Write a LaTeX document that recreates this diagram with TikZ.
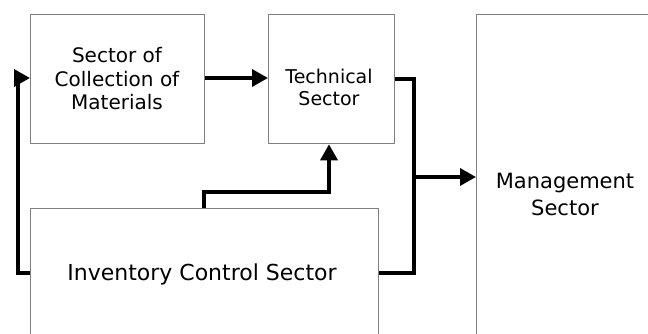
\documentclass[tikz,border=0pt]{standalone}
\usepackage{fontspec}
\setmainfont{DejaVu Sans}
\usetikzlibrary{arrows.meta}
\begin{document}
\begin{tikzpicture}[x=1pt,y=-1pt,
  box/.style={draw=black!50,line width=1.3pt,inner sep=0pt,align=center,anchor=north west},
  lbl/.style={align=center,inner sep=0pt},
  conn/.style={line width=3.5pt,line join=miter},
  arr/.style={conn,-{Triangle[length=16pt,width=17pt]}}]
\useasboundingbox (0,0) rectangle (648,334);
\clip (0,0) rectangle (648,334);
\node[box,minimum width=174pt,minimum height=129pt] (col) at (30,14) {};
\node[lbl,font=\fontsize{20}{23.5}\selectfont] at (117,79) {Sector of\\Collection of\\Materials};
\node[box,minimum width=126pt,minimum height=129pt] (tech) at (268,14) {};
\node[lbl,font=\fontsize{19}{22}\selectfont] at (329,87) {Technical\\Sector};
\node[box,minimum width=200pt,minimum height=340pt] (man) at (476,14) {};
\node[lbl,font=\fontsize{21}{27}\selectfont] at (565,194) {Management\\Sector};
\node[box,minimum width=348pt,minimum height=150pt] (inv) at (30,208) {};
\node[lbl,font=\fontsize{22}{26}\selectfont] at (202,274) {Inventory Control Sector};
\coordinate (j) at (414,177);
\draw[arr] (col.east |- 0,78) -- (tech.west |- 0,78);
\draw[conn] (tech.east |- 0,79) -- (414,79) -- (414,273) -- (inv.east |- 0,273);
\draw[arr] (j) -- (man.west |- j);
\draw[arr] (inv.west |- 0,273) -- (18,273) -- (18,78) -- (col.west |- 0,78);
\draw[arr] (inv.north -| 204,0) -- (204,192) -- (329,192) -- (tech.south -| 329,0);
\end{tikzpicture}
\end{document}
